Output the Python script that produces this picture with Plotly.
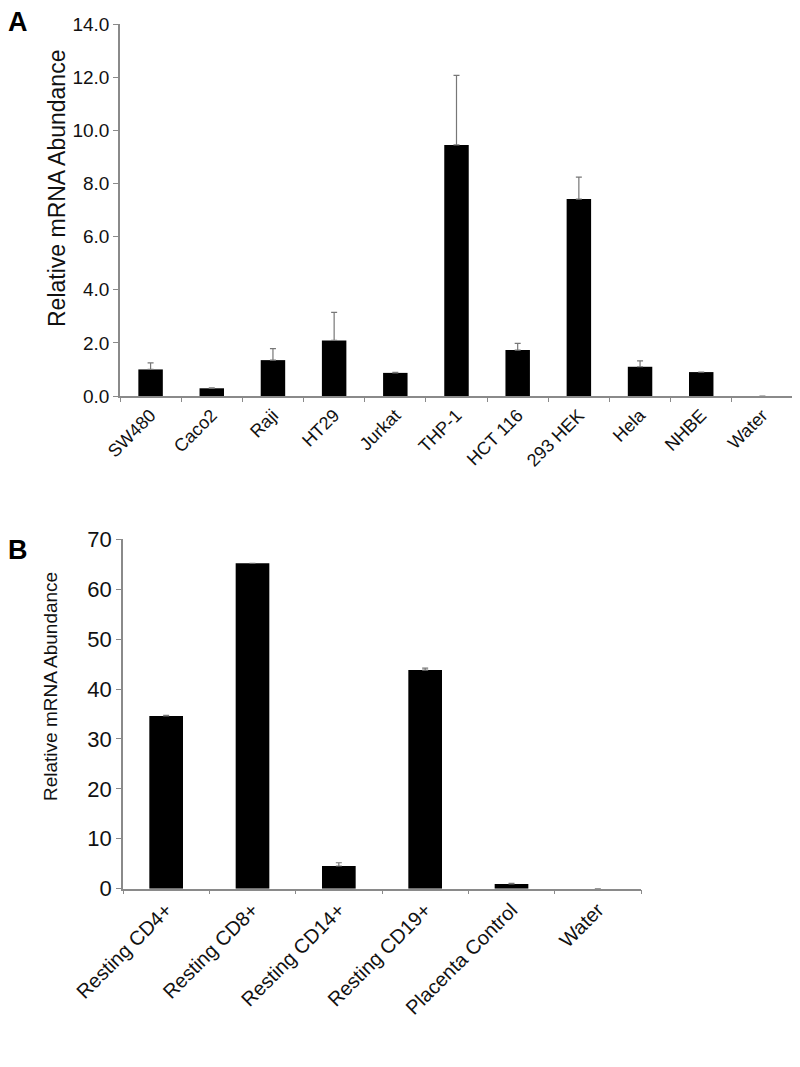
import plotly.graph_objects as go

# Panel A data
cats_a = ["SW480", "Caco2", "Raji", "HT29", "Jurkat", "THP-1", "HCT 116", "293 HEK", "Hela", "NHBE", "Water"]
vals_a = [1.00, 0.29, 1.35, 2.09, 0.87, 9.45, 1.73, 7.41, 1.10, 0.90, 0.0]
err_a = [0.25, 0.02, 0.43, 1.06, 0.02, 2.62, 0.25, 0.83, 0.22, None, None]
yticks_a = [0, 2, 4, 6, 8, 10, 12, 14]

# Panel B data
cats_b = ["Resting CD4+", "Resting CD8+", "Resting CD14+", "Resting CD19+", "Placenta Control", "Water"]
vals_b = [34.6, 65.2, 4.55, 43.8, 0.94, 0.0]
err_b = [0.15, None, 0.65, 0.4, 0.15, None]
yticks_b = [0, 10, 20, 30, 40, 50, 60, 70]

FONT = "Liberation Sans, Arial, sans-serif"
AXC = "#8a8a8a"
OFF = 8  # page body margin
W, H = 800 - OFF, 1067 - OFF


def px(xp):
    return (xp - OFF) / W


def py(yp):
    return 1 - (yp - OFF) / H


fig = go.Figure()
fig.add_trace(go.Bar(
    x=cats_a, y=vals_a, width=0.4,
    marker=dict(color="black", line=dict(width=0)),
    error_y=dict(type="data", array=err_a, arrayminus=[0 if e is not None else None for e in err_a],
                 symmetric=False, color="#777777", thickness=1.2, width=3),
    xaxis="x", yaxis="y", showlegend=False))
fig.add_trace(go.Bar(
    x=cats_b, y=vals_b, width=0.39,
    marker=dict(color="black", line=dict(width=0)),
    error_y=dict(type="data", array=err_b, arrayminus=[0 if e is not None else None for e in err_b],
                 symmetric=False, color="#777777", thickness=1.2, width=3),
    xaxis="x2", yaxis="y2", showlegend=False))

common_x = dict(type="category", showline=True, linecolor=AXC, linewidth=1.5,
                ticks="outside", tickson="boundaries", ticklen=4, tickcolor=AXC,
                showgrid=False, zeroline=False, tickangle=-45, automargin=False)
common_y = dict(showline=True, linecolor=AXC, linewidth=1.5, ticks="outside",
                ticklen=5, tickcolor=AXC, showgrid=False, zeroline=False, automargin=False)

fig.update_layout(
    width=W, height=H,
    paper_bgcolor="white", plot_bgcolor="white",
    margin=dict(l=0, r=0, t=0, b=0),
    font=dict(family=FONT, color="#111111"),
    xaxis=dict(**common_x, domain=[px(120), px(793)], anchor="y",
               tickfont=dict(size=18, family=FONT)),
    yaxis=dict(**common_y, domain=[py(396), py(24)], anchor="x", range=[0, 14],
               tickvals=yticks_a, tickformat=".1f", tickfont=dict(size=19, family=FONT)),
    xaxis2=dict(**common_x, domain=[px(123), px(641)], anchor="y2",
                tickfont=dict(size=20, family=FONT)),
    yaxis2=dict(**common_y, domain=[py(888.7), py(539.3)], anchor="x2", range=[0, 70],
                tickvals=yticks_b, tickfont=dict(size=22, family=FONT)),
)
fig.add_annotation(text="Relative mRNA Abundance", x=px(57), y=py(189), xref="paper", yref="paper",
                   textangle=-90, showarrow=False, xanchor="center", yanchor="middle",
                   font=dict(size=23, family=FONT, color="#111111"))
fig.add_annotation(text="Relative mRNA Abundance", x=px(50), y=py(687), xref="paper", yref="paper",
                   textangle=-90, showarrow=False, xanchor="center", yanchor="middle",
                   font=dict(size=19, family=FONT, color="#111111"))
fig.add_annotation(text="<b>A</b>", x=px(6), y=py(5), xref="paper", yref="paper",
                   xanchor="left", yanchor="top", showarrow=False,
                   font=dict(size=27, family=FONT, color="black"))
fig.add_annotation(text="<b>B</b>", x=px(6), y=py(533), xref="paper", yref="paper",
                   xanchor="left", yanchor="top", showarrow=False,
                   font=dict(size=27, family=FONT, color="black"))

fig.write_html("out.html")
